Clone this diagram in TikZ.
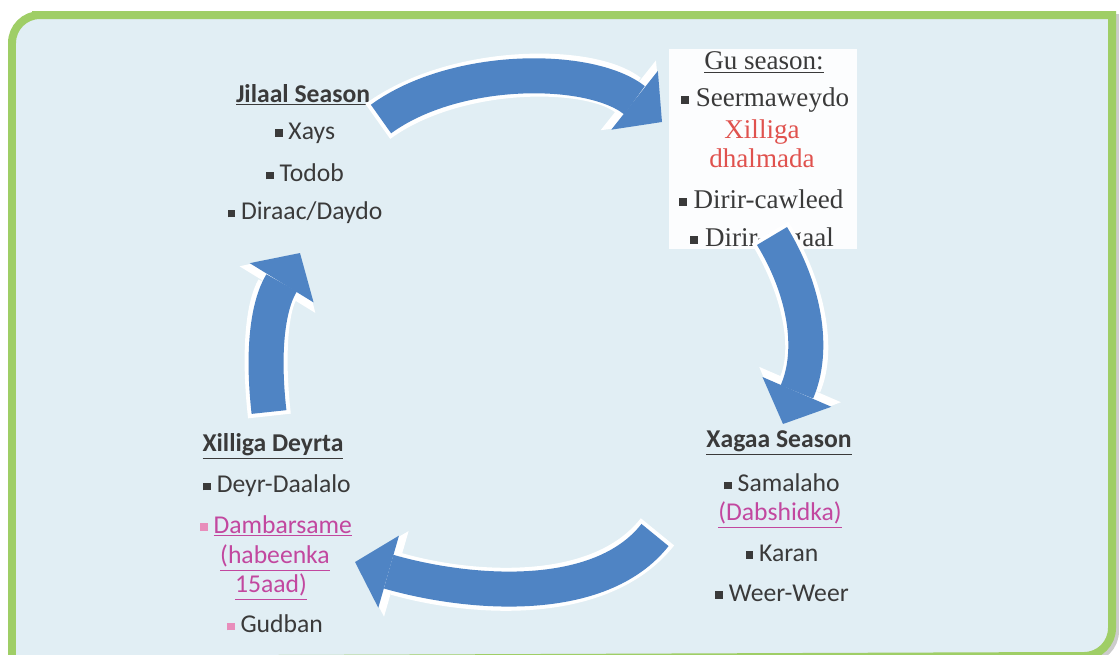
\documentclass[tikz,border=0pt]{standalone}
\usepackage{fontspec}
\setmainfont{Carlito}
\newfontfamily\gufont{Liberation Serif}
\usetikzlibrary{arrows.meta}
\definecolor{framegreen}{HTML}{9FCE66}
\definecolor{panelblue}{HTML}{E1EEF4}
\definecolor{arrowblue}{HTML}{4F84C4}
\definecolor{textgray}{HTML}{3A3A3A}
\definecolor{dhalred}{HTML}{E0524E}
\definecolor{linkpink}{HTML}{C2479F}
\definecolor{bulletpink}{HTML}{E88DBB}
\newcommand{\sqb}[1][textgray]{{\color{#1}\rule[0.2ex]{0.3em}{0.3em}}\ }
\tikzset{
  item/.style={text=textgray, inner sep=0pt, font=\fontsize{14.6}{16}\selectfont},
  head/.style={item, font=\fontsize{14.6}{16}\selectfont\bfseries},
  guitem/.style={item, font=\fontsize{15.4}{17}\selectfont\gufont},
  halo/.style={draw=white, line width=0.86cm, shorten <=-0.08cm,
    -{Triangle[width=1.78cm, length=0.86cm, line width=0pt]}},
  flow/.style={draw=arrowblue, line width=0.7cm,
    -{Triangle[width=1.5cm, length=0.7cm, line width=0pt]}}
}

\begin{document}
\begin{tikzpicture}[x=0.02cm, y=-0.02cm]
  \useasboundingbox (0,0) rectangle (1119,654);
  % panel
  \draw[black!20, line width=0.16cm] (15,663) [rounded corners=0.56cm] -- (15,18) -- (60,18)
    [sharp corners] -- (1115,18) -- (1115,600) [rounded corners=0.56cm] -- (1115,659) -- (1060,659)
    [sharp corners] -- cycle;
  \draw[framegreen, fill=panelblue, line width=0.16cm] (12,660) [rounded corners=0.56cm] -- (12,15) -- (60,15)
    [sharp corners] -- (1112,15) -- (1112,600) [rounded corners=0.56cm] -- (1112,656) -- (1060,656)
    [sharp corners] -- cycle;

  % Jilaal
  \node[head] (jilaal) at (303,95) {\underline{Jilaal Season}};
  \node[item] (xays) at (305,133) {\sqb Xays};
  \node[item] (todob) at (305,173) {\sqb Todob};
  \node[item] (diraac) at (305,213) {\sqb Diraac/Daydo};

  % Gu
  \node[fill=white, fill opacity=0.92, minimum width=3.76cm, minimum height=4cm] (gubox) at (763,149) {};
  \node[guitem] (gu) at (764,62) {\underline{Gu season:}};
  \node[guitem] (seer) at (765,100) {\sqb Seermaweydo};
  \node[guitem, text=dhalred] (xilliga) at (762,132) {Xilliga};
  \node[guitem, text=dhalred] (dhalmada) at (762,158) {dhalmada};
  \node[guitem] (cawleed) at (761,199) {\sqb Dirir-cawleed};
  \node[guitem] (sagaal) at (762,240) {\sqb Dirir-sagaal};

  % Xagaa
  \node[head] (xagaa) at (779,443) {\underline{Xagaa Season}};
  \node[item] (samalaho) at (782,483) {\sqb Samalaho};
  \node[item, text=linkpink] (dabshid) at (780,515) {\underline{(Dabshidka)}};
  \node[item] (karan) at (782,553) {\sqb Karan};
  \node[item] (weer) at (782,593) {\sqb Weer-Weer};

  % Deyrta
  \node[head] (deyrta) at (273,446) {\underline{Xilliga Deyrta}};
  \node[item] (deyr) at (277,486) {\sqb Deyr-Daalalo};
  \node[item, text=linkpink] (dambar) at (276,526) {\sqb[bulletpink]\underline{Dambarsame}};
  \node[item, text=linkpink] (habeenka) at (275,558) {\underline{(habeenka}};
  \node[item, text=linkpink] (aad) at (271,587) {\underline{15aad)}};
  \node[item] (gudban) at (275,624) {\sqb[bulletpink]Gudban};

  % arrows
  \coordinate (topA) at (381,119);
  \coordinate (topB) at (662,122);
  \coordinate (rightA) at (772,236);
  \coordinate (rightB) at (783,424);
  \coordinate (bottomA) at (655,535);
  \coordinate (bottomB) at (355,562);
  \coordinate (leftA) at (269,412);
  \coordinate (leftB) at (300,253);
  \draw[halo] (topA) .. controls (455,65) and (590,65) .. (topB);
  \draw[flow] (topA) .. controls (455,65) and (590,65) .. (topB);
  \draw[halo] (rightA) .. controls (805,290) and (815,350) .. (rightB);
  \draw[flow] (rightA) .. controls (805,290) and (815,350) .. (rightB);
  \draw[halo] (bottomA) .. controls (600,605) and (470,595) .. (bottomB);
  \draw[flow] (bottomA) .. controls (600,605) and (470,595) .. (bottomB);
  \draw[halo] (leftA) .. controls (262,350) and (268,305) .. (leftB);
  \draw[flow] (leftA) .. controls (262,350) and (268,305) .. (leftB);
\end{tikzpicture}
\end{document}
